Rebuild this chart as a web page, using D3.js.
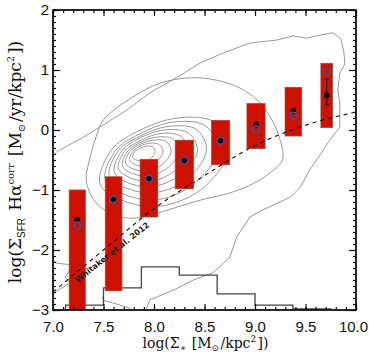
<!DOCTYPE html>
<html>
<head>
<meta charset="utf-8">
<script src="https://cdn.jsdelivr.net/npm/d3@7"></script>
<style>
  body { margin: 0; background: #fff; }
  svg { display: block; }
  .tick text { font-family: "Liberation Sans", Arial, sans-serif; font-size: 15px; fill: #111; }
  .tick line { stroke: #111; stroke-width: 1.2; }
</style>
</head>
<body>
<div id="chart"></div>
<script>
// binned medians: log stellar mass surface density
var binX = [7.24, 7.60, 7.95, 8.30, 8.66, 9.01, 9.38, 9.71];
var binW = [0.16, 0.165, 0.175, 0.18, 0.18, 0.18, 0.165, 0.115];
var barTop = [-1.00, -0.78, -0.49, -0.17, 0.16, 0.44, 0.71, 1.11];
var barBot = [-3.30, -2.68, -1.45, -0.98, -0.58, -0.31, -0.10, 0.04];
var medFilled = [-1.50, -1.15, -0.81, -0.51, -0.18, 0.09, 0.32, 0.58];
var errHi = [0, 0, 0, 0, 0, 0, 0.03, 0.27];
var errLo = [0, 0, 0, 0, 0, 0, 0.03, 0.16];
var medOpen = [-1.59, -1.16, -0.81, -0.51, -0.18, 0.01, 0.24, 0.97];

// Whitaker et al. 2012 relation
var whitX = [7.0, 7.5, 8.0, 8.5, 9.0, 9.5, 10.0];
var whitY = [-2.70, -2.00, -1.31, -0.76, -0.26, 0.08, 0.30];

// histogram of pixels (top of each step, in y units)
var histEdges = [7.125, 7.5, 7.875, 8.25, 8.625, 9.0, 9.375, 9.75];
var histTop = [-2.92, -2.63, -2.28, -2.42, -2.73, -2.92, -2.98];

// density contours, outermost first
var contourOuter = [[6.9,-0.6],[7.04,-0.36],[7.30,-0.12],[7.53,0.12],[7.73,0.33],[7.96,0.62],[8.23,0.88],
  [8.46,1.12],[8.68,1.28],[8.95,1.45],[9.22,1.50],[9.38,1.57],[9.51,1.53],[9.64,1.58],[9.77,1.62],[9.85,1.52],
  [9.88,1.30],[9.89,1.10],[9.84,0.95],[9.82,0.67],[9.84,0.45],[9.84,0.05],[9.74,-0.17],[9.61,-0.5],[9.54,-0.67],
  [9.45,-0.95],[9.35,-1.12],[9.22,-1.22],[9.08,-1.33],[8.95,-1.45],[8.82,-1.78],[8.75,-2.12],[8.65,-2.28],
  [8.58,-2.38],[8.39,-2.5],[8.19,-2.67],[7.96,-2.83],[7.93,-2.95],[7.9,-3.1]];
var contourPieces = [
  [[7.49,-2.78],[7.5,-2.84],[7.57,-2.87],[7.76,-2.97],[7.8,-3.05]],
  [[6.98,-2.15],[7.04,-2.22],[7.2,-2.25],[7.12,-2.45],[7.17,-2.55],[7.09,-2.63],[7.0,-2.72]]
];
var contoursClosed = [
  [[7.42,-0.15],[7.50,0.17],[7.79,0.55],[8.06,0.78],[8.36,0.87],[8.62,0.83],[8.85,0.70],[9.02,0.50],[9.15,0.22],
   [9.25,-0.17],[9.27,-0.5],[9.12,-0.75],[8.95,-0.92],[8.75,-1.05],[8.50,-1.15],[8.2,-1.3],[8.0,-1.4],[7.8,-1.47],
   [7.6,-1.42],[7.42,-1.2],[7.33,-0.85],[7.36,-0.5]],
  [[7.47,-0.92],[7.58,-0.33],[7.83,-0.03],[8.23,0.20],[8.60,0.13],[8.74,-0.33],[8.46,-1.00],[7.96,-1.28]],
  [[7.52,-0.85],[7.62,-0.34],[7.84,-0.08],[8.18,0.13],[8.51,0.07],[8.63,-0.34],[8.38,-0.92],[7.95,-1.17]],
  [[7.56,-0.78],[7.65,-0.34],[7.84,-0.12],[8.14,0.06],[8.42,0.01],[8.52,-0.34],[8.31,-0.84],[7.94,-1.05]],
  [[7.61,-0.72],[7.68,-0.35],[7.84,-0.15],[8.10,0.00],[8.34,-0.05],[8.43,-0.35],[8.24,-0.77],[7.92,-0.95]],
  [[7.65,-0.66],[7.71,-0.35],[7.85,-0.19],[8.06,-0.06],[8.26,-0.10],[8.34,-0.35],[8.18,-0.71],[7.92,-0.86]],
  [[7.69,-0.61],[7.74,-0.35],[7.85,-0.22],[8.02,-0.12],[8.19,-0.15],[8.25,-0.35],[8.12,-0.65],[7.90,-0.77]],
  [[7.72,-0.56],[7.76,-0.36],[7.85,-0.25],[7.99,-0.17],[8.12,-0.19],[8.17,-0.36],[8.07,-0.59],[7.90,-0.69]],
  [[7.76,-0.51],[7.79,-0.36],[7.85,-0.28],[7.96,-0.22],[8.05,-0.24],[8.09,-0.36],[8.02,-0.53],[7.89,-0.61]],
  [[7.79,-0.46],[7.81,-0.36],[7.86,-0.31],[7.92,-0.27],[7.99,-0.28],[8.01,-0.36],[7.96,-0.48],[7.88,-0.52]]
];

var xMajor = [7.0, 7.5, 8.0, 8.5, 9.0, 9.5, 10.0];
var yMajor = [-3, -2, -1, 0, 1, 2];

// set the dimensions and margins of the graph
var margin = { top: 10, right: 13, bottom: 44, left: 53 },
    width = 369 - margin.left - margin.right,
    height = 354 - margin.top - margin.bottom;

var svg = d3.select("#chart")
  .append("svg")
    .attr("width", 369)
    .attr("height", 354)
  .append("g")
    .attr("transform", "translate(" + margin.left + "," + margin.top + ")");

var x = d3.scaleLinear().domain([7, 10]).range([0, width]);
var y = d3.scaleLinear().domain([-3, 2]).range([height, 0]);

svg.append("clipPath").attr("id", "plotclip")
  .append("rect").attr("width", width).attr("height", height);

var plot = svg.append("g").attr("clip-path", "url(#plotclip)");

// contours
var lineOpen = d3.line().x(function(d) { return x(d[0]); }).y(function(d) { return y(d[1]); });
var lineClosed = d3.line().x(function(d) { return x(d[0]); }).y(function(d) { return y(d[1]); })
  .curve(d3.curveCatmullRomClosed.alpha(0.5));

plot.append("path").attr("d", lineOpen(contourOuter))
  .attr("fill", "none").attr("stroke", "#999").attr("stroke-width", 1);
contourPieces.forEach(function(c) {
  plot.append("path").attr("d", lineOpen(c))
    .attr("fill", "none").attr("stroke", "#999").attr("stroke-width", 1);
});
contoursClosed.forEach(function(c) {
  plot.append("path").attr("d", lineClosed(c))
    .attr("fill", "none").attr("stroke", "#999").attr("stroke-width", 1);
});

// histogram step line
var histPts = [[histEdges[0], -3]];
histTop.forEach(function(v, i) {
  histPts.push([histEdges[i], v]);
  histPts.push([histEdges[i + 1], v]);
});
histPts.push([histEdges[histEdges.length - 1], -3]);
plot.append("path").attr("d", lineOpen(histPts))
  .attr("fill", "none").attr("stroke", "#444").attr("stroke-width", 1.3);

// red bars
plot.selectAll(".bar")
  .data(binX)
  .enter()
  .append("rect")
  .attr("class", "bar")
  .attr("x", function(d, i) { return x(d - binW[i] / 2); })
  .attr("width", function(d, i) { return x(binW[i]) - x(0); })
  .attr("y", function(d, i) { return y(barTop[i]); })
  .attr("height", function(d, i) { return y(barBot[i]) - y(barTop[i]); })
  .attr("fill", "#cc1100")
  .attr("stroke", "#9b4a40")
  .attr("stroke-width", 0.8);

// Whitaker et al. 2012 dashed relation
var whit = whitX.map(function(d, i) { return [d, whitY[i]]; });
plot.append("path")
  .attr("d", d3.line().x(function(d) { return x(d[0]); }).y(function(d) { return y(d[1]); })
    .curve(d3.curveMonotoneX)(whit))
  .attr("fill", "none").attr("stroke", "#111").attr("stroke-width", 1.1)
  .attr("stroke-dasharray", "4,4");

var ang = Math.atan2(y(-1.31) - y(-2.40), x(8.0) - x(7.18)) * 180 / Math.PI;
plot.append("text")
  .attr("transform", "translate(" + x(7.245) + "," + y(-2.55) + ") rotate(" + ang + ")")
  .attr("font-family", "DejaVu Sans, sans-serif")
  .attr("font-size", "8px")
  .attr("font-weight", "bold")
  .attr("fill", "#222")
  .text("Whitaker et al. 2012");

// error bars
plot.selectAll(".err")
  .data(binX)
  .enter()
  .append("path")
  .attr("d", function(d, i) {
    if (errHi[i] + errLo[i] === 0) return null;
    var cx = x(d), y1 = y(medFilled[i] + errHi[i]), y2 = y(medFilled[i] - errLo[i]);
    return "M" + (cx - 2) + "," + y1 + "H" + (cx + 2) + "M" + cx + "," + y1 + "V" + y2 +
      "M" + (cx - 2) + "," + y2 + "H" + (cx + 2);
  })
  .attr("fill", "none").attr("stroke", "#111").attr("stroke-width", 1);

// filled medians
plot.selectAll(".med")
  .data(binX)
  .enter()
  .append("circle")
  .attr("cx", function(d) { return x(d); })
  .attr("cy", function(d, i) { return y(medFilled[i]); })
  .attr("r", 2.8)
  .attr("fill", "#000");

// open circles
plot.selectAll(".open")
  .data(binX)
  .enter()
  .append("circle")
  .attr("cx", function(d) { return x(d); })
  .attr("cy", function(d, i) { return y(medOpen[i]); })
  .attr("r", 3.5)
  .attr("fill", "none")
  .attr("stroke", "#4c4c8c")
  .attr("stroke-width", 1.6);

// axes with inward ticks on all four sides
function minorTicks(lo, hi, step) {
  var out = [];
  for (var v = lo; v <= hi + 1e-9; v += step) out.push(+v.toFixed(2));
  return out;
}
var xMinor = minorTicks(7, 10, 0.1);
var yMinor = minorTicks(-3, 2, 0.1);

var xAxisG = svg.append("g").attr("transform", "translate(0," + height + ")")
  .call(d3.axisBottom(x).tickValues(xMajor).tickFormat(d3.format(".1f")).tickSizeInner(-6).tickSizeOuter(0).tickPadding(11));
// keep the last label inside the page
xAxisG.selectAll(".tick text").filter(function(d) { return d === 10; }).attr("dx", -3);
svg.append("g").attr("transform", "translate(0," + height + ")")
  .call(d3.axisBottom(x).tickValues(xMinor).tickFormat("").tickSizeInner(-3).tickSizeOuter(0));
svg.append("g")
  .call(d3.axisTop(x).tickValues(xMajor).tickFormat("").tickSizeInner(-6).tickSizeOuter(0));
svg.append("g")
  .call(d3.axisTop(x).tickValues(xMinor).tickFormat("").tickSizeInner(-3).tickSizeOuter(0));
svg.append("g")
  .call(d3.axisLeft(y).tickValues(yMajor).tickFormat(d3.format("d")).tickSizeInner(-7).tickSizeOuter(0).tickPadding(4));
svg.append("g")
  .call(d3.axisLeft(y).tickValues(yMinor).tickFormat("").tickSizeInner(-3).tickSizeOuter(0));
svg.append("g").attr("transform", "translate(" + width + ",0)")
  .call(d3.axisRight(y).tickValues(yMajor).tickFormat("").tickSizeInner(-7).tickSizeOuter(0));
svg.append("g").attr("transform", "translate(" + width + ",0)")
  .call(d3.axisRight(y).tickValues(yMinor).tickFormat("").tickSizeInner(-3).tickSizeOuter(0));
svg.selectAll(".domain").remove();

svg.append("rect")
  .attr("width", width).attr("height", height)
  .attr("fill", "none").attr("stroke", "#111").attr("stroke-width", 1.8);

// axis titles with sub/superscripts
function rich(t, parts, small) {
  parts.forEach(function(p) {
    var shift = p[1] === "sub" ? small * 0.35 : p[1] === "sup" ? -small * 0.7 : 0;
    var ts = t.append("tspan").text(p[0]);
    if (shift) {
      ts.attr("dy", shift).attr("font-size", small + "px");
      if (p[2]) ts.attr("font-family", p[2]);
      t.append("tspan").attr("dy", -shift).text("\u200A");
    }
  });
}

var xt = svg.append("text")
  .attr("x", width / 2 + 1)
  .attr("y", height + 38)
  .attr("text-anchor", "middle")
  .attr("font-family", "DejaVu Serif, serif")
  .attr("font-size", "14px")
  .attr("fill", "#111");
rich(xt, [["log(\u03A3"], ["\u2217", "sub"], [" [M"], ["\u2299", "sub"], ["/kpc"], ["2", "sup"], ["])"]], 9);

var yt = svg.append("text")
  .attr("transform", "translate(-32," + (height / 2 + 2) + ") rotate(-90)")
  .attr("text-anchor", "middle")
  .attr("font-family", "DejaVu Serif, serif")
  .attr("font-size", "17px")
  .attr("fill", "#111");
rich(yt, [["log(\u03A3"], ["SFR", "sub", "Liberation Sans, sans-serif"], [" H\u03B1"], ["corr", "sup"], [" [M"], ["\u2299", "sub"], ["/yr/kpc"], ["2", "sup"], ["])"]], 10);
</script>
</body>
</html>
